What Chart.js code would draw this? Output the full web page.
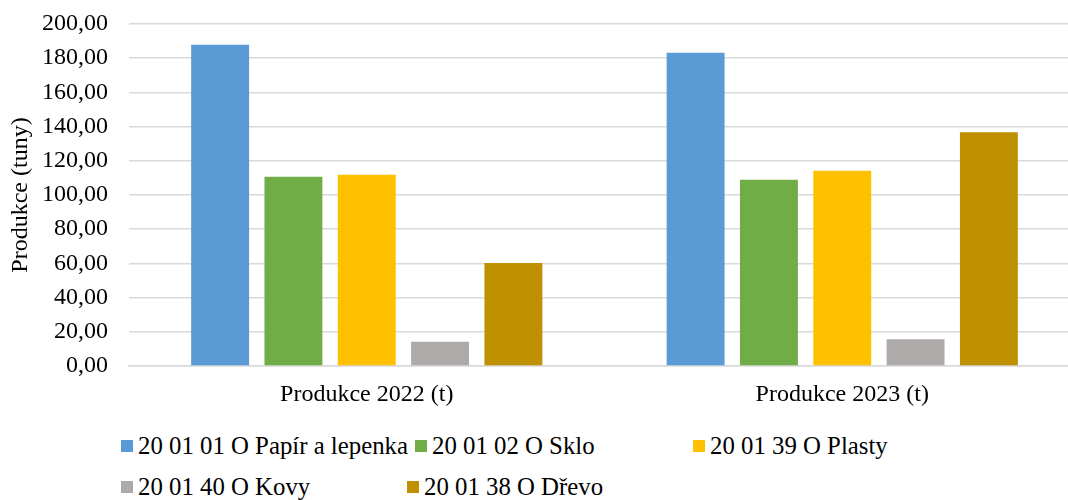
<!DOCTYPE html>
<html>
<head>
<meta charset="utf-8">
<script src="https://cdn.jsdelivr.net/npm/chart.js@4/dist/chart.umd.min.js"></script>
<style>
  html, body { margin: 0; padding: 0; background: #fff; width: 1068px; height: 500px; overflow: hidden; }
  #wrap { position: absolute; left: 0; top: 0; width: 1080px; height: 420px; }
  .lg { position: absolute; height: 30px; display: flex; align-items: center; font-family: 'Liberation Serif', 'Times New Roman', serif; font-size: 24.8px; color: #000; white-space: nowrap; }
  .lg .m { width: 12px; height: 12px; margin-right: 5px; flex: none; }
</style>
</head>
<body>
<div id="wrap"><canvas id="c"></canvas></div>
<div id="legend"></div>
<script>
const categories = ['Produkce 2022 (t)', 'Produkce 2023 (t)'];
const seriesNames = ['20 01 01 O Papír a lepenka', '20 01 02 O Sklo', '20 01 39 O Plasty', '20 01 40 O Kovy', '20 01 38 O Dřevo'];
const papir = [187.9, 183.2];
const sklo = [110.7, 108.9];
const plasty = [111.9, 114.2];
const kovy = [14.2, 15.6];
const drevo = [60.3, 136.7];
const yTitle = 'Produkce (tuny)';

const colors = ['#5b9bd5', '#70ad47', '#ffc000', '#aeaaaa', '#bf9000'];
const seriesData = [papir, sklo, plasty, kovy, drevo];
const legendPos = [[121, 431], [415, 431], [693, 431], [121, 472], [407, 472]];

const FONT = 'Liberation Serif';

new Chart(document.getElementById('c'), {
  type: 'bar',
  data: {
    labels: categories,
    datasets: seriesNames.map((n, i) => ({
      label: n,
      data: seriesData[i],
      backgroundColor: colors[i],
      borderWidth: 0,
      categoryPercentage: 0.771,
      barPercentage: 0.79
    }))
  },
  options: {
    responsive: true,
    maintainAspectRatio: false,
    animation: false,
    layout: { padding: { top: 24, left: 0, right: 0, bottom: 0 } },
    plugins: { legend: { display: false }, tooltip: { enabled: false } },
    scales: {
      x: {
        grid: { display: false },
        border: { display: true, color: '#d9d9d9', width: 1.5 },
        ticks: { color: '#000', font: { family: FONT, size: 24 }, padding: 6 },
        afterFit: s => { s.height = 54; s.paddingLeft = 0; s.paddingRight = 0; }
      },
      y: {
        min: 0, max: 200,
        grid: { color: '#d9d9d9', lineWidth: 1.5, drawTicks: false },
        border: { display: false },
        ticks: {
          stepSize: 20, color: '#000', padding: 21,
          font: { family: FONT, size: 24 },
          callback: v => v.toFixed(2).replace('.', ',')
        },
        title: { display: true, text: yTitle, color: '#000', font: { family: FONT, size: 24 }, padding: { top: 6, bottom: 0 } },
        afterFit: s => { s.width = 129; s.paddingTop = 0; s.paddingBottom = 0; }
      }
    }
  }
});

const lg = document.getElementById('legend');
seriesNames.forEach((n, i) => {
  const d = document.createElement('div');
  d.className = 'lg';
  d.style.left = legendPos[i][0] + 'px';
  d.style.top = legendPos[i][1] + 'px';
  const m = document.createElement('span');
  m.className = 'm';
  m.style.background = colors[i];
  const t = document.createElement('span');
  t.textContent = n;
  d.appendChild(m); d.appendChild(t);
  lg.appendChild(d);
});
</script>
</body>
</html>
